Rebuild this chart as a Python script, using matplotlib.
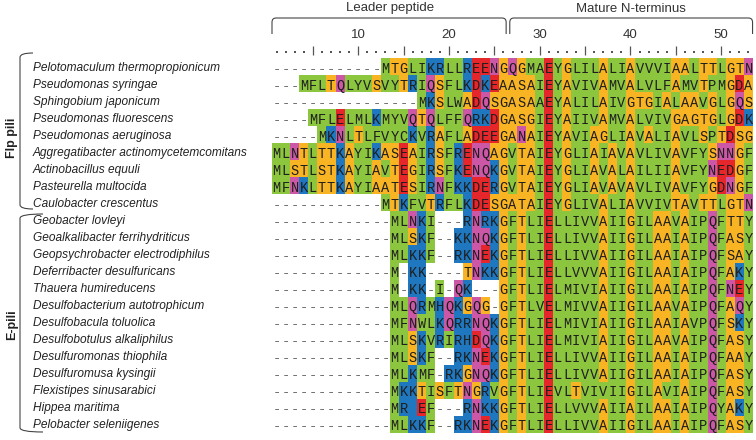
import numpy as np
import matplotlib.pyplot as plt
from matplotlib.colors import ListedColormap
from matplotlib.path import Path
from matplotlib.patches import PathPatch
from matplotlib.transforms import blended_transform_factory

species = [
    "Pelotomaculum thermopropionicum",
    "Pseudomonas syringae",
    "Sphingobium japonicum",
    "Pseudomonas fluorescens",
    "Pseudomonas aeruginosa",
    "Aggregatibacter actinomycetemcomitans",
    "Actinobacillus equuli",
    "Pasteurella multocida",
    "Caulobacter crescentus",
    "Geobacter lovleyi",
    "Geoalkalibacter ferrihydriticus",
    "Geopsychrobacter electrodiphilus",
    "Deferribacter desulfuricans",
    "Thauera humireducens",
    "Desulfobacterium autotrophicum",
    "Desulfobacula toluolica",
    "Desulfobotulus alkaliphilus",
    "Desulfuromonas thiophila",
    "Desulfuromusa kysingii",
    "Flexistipes sinusarabici",
    "Hippea maritima",
    "Pelobacter seleniigenes",
]

sequences = [
    "------------MTGLIKRLLREENGQGMAEYGLILALIAVVVIAALTTLGTN",
    "---MFLTQLYVSVYTRIQSFLKDKEAASAIEYAVIVAMVALVLFAMVTPMGDA",
    "----------------MKSLWADQSGASAAEYALILAIVGTGIALAAVGLGQS",
    "----MFLELMLKMYVQTQLFFQRKDGASGIEYAIIVAMVALVIVGAGTGLGDK",
    "-----MKNLTLFVYCKVRAFLADEEGANAIEYAVIAGLIAVALIAVLSPTDSG",
    "MLNTLTTKAYIKASEAIRSFRENQAGVTAIEYGLIAIAVAVLIVAVFYSNNGF",
    "MLSTLSTKAYIAVTEGIRSFKENQKGVTAIEYGLIAVALAILIIAVFYNEDGF",
    "MFNKLTTKAYIAATESIRNFKKDERGVTAIEYGLIAVAVAVLIVAVFYGDNGF",
    "------------MTKFVTRFLKDESGATAIEYGLIVALIAVVIVTAVTTLGTN",
    "-------------MLNKI---RNRKGFTLIELLIVVAIIGILAAVAIPQFTTY",
    "-------------MLSKF--KKNQKGFTLIELLIVVAIIGILAAIAIPQFASY",
    "-------------MLKKF--RKNEKGFTLIELLIVVAIIGILAAIAIPQFSAY",
    "-------------M-KK----TNKKGFTLIELLVVVAIIGILAAIAIPQFAKY",
    "-------------M-KK-I-QK---GFTLIELMIVIAIIGILAAIAIPQFNEY",
    "-------------MLQRMHQKGQG-GFTLVELMIVVAIIGILAAVAIPQFAQY",
    "-------------MFNWLKQRRNQKGFTLIELMIVIAIIGILAAIAVPQFSKY",
    "-------------MLSKVRIRHDQKGFTLIELMIVIAIIGILAAVAIPQFASY",
    "-------------MLSKF--RKNEKGFTLIELLIVVAIIGILAAIAIPQFAAY",
    "-------------MLKMF-RKGNQKGFTLIELLIVVAIIGILAAIAIPQFASY",
    "-------------MKKTISFTNGRVGFTLIEVLTVIVIIGILAVIAIPQFASY",
    "-------------MR EF---RNKKGFTLIELLVVVAIIAILAAIAIPQYAKY",
    "-------------MLKKF--RKNEKGFTLIELLIVVAIIGILAAIAIPQFASY",
]

groups = [("Flp pili", 0, 8), ("E-pili", 9, 21)]
regions = [("Leader peptide", 1, 26), ("Mature N-terminus", 27, 53)]
ruler_labels = [10, 20, 30, 40, 50]

# residue classes -> colour index (0 = gap / white)
residue_class = {}
for aa in "ILMFVWYCP":
    residue_class[aa] = 1   # hydrophobic
for aa in "AGST":
    residue_class[aa] = 2   # small
for aa in "KRH ":
    residue_class[aa] = 3   # basic (blank in Hippea is a basic cell)
for aa in "ED":
    residue_class[aa] = 4   # acidic
for aa in "QN":
    residue_class[aa] = 5   # amide
palette = ["white", "#8cc63f", "#f8b423", "#1f78bf", "#e5262b", "#cc57a6"]

ncol = len(sequences[0])
nrow = len(sequences)
codes = np.array([[residue_class.get(ch, 0) for ch in s] for s in sequences])
# Ala in the strongly hydrophobic column 30 is shown as hydrophobic
codes[[0, 2], 29] = 1

W, H = 756, 440
row_px = 17.0
top_px = 59.5
fig = plt.figure(figsize=(W / 100, H / 100), dpi=100)
ax = fig.add_axes([272 / W, 1 - (top_px + nrow * row_px) / H, 481 / W, (top_px + nrow * row_px) / H])
ax.axis("off")

ax.imshow(codes, cmap=ListedColormap(palette), vmin=-0.5, vmax=5.5,
          extent=(0.5, ncol + 0.5, nrow - 0.5, -0.5), aspect="auto", interpolation="nearest")
ax.set_xlim(0.5, ncol + 0.5)
ax.set_ylim(nrow - 0.5, -0.5 - top_px / row_px)

def px2row(y):
    return (y - 68) / row_px

for r, s in enumerate(sequences):
    for c, ch in enumerate(s):
        if ch == " ":
            continue
        ax.text(c + 1, r + 0.05, ch, ha="center", va="center", family="Liberation Mono",
                fontsize=9.8, color="#707070" if ch == "-" else "#1e1e1e")

# ruler
cols = np.arange(1, ncol + 1)
dots = cols[cols % 5 != 0]
ticks = cols[cols % 5 == 0]
ax.scatter(dots, np.full(len(dots), px2row(52)), s=2.2, marker="s", lw=0, color="#555555", clip_on=False)
ax.vlines(ticks, px2row(46), px2row(55), color="#555555", lw=0.9, clip_on=False)
for t in ruler_labels:
    ax.text(t, px2row(35), str(t), ha="center", va="center", fontsize=9.5,
            family="Liberation Sans", color="#333333")

# region brackets on top
def top_bracket(x0, x1):
    y0, y1 = px2row(34), px2row(18)
    rx, ry = 0.45, 0.25
    verts = [(x0, y0), (x0, y1 + ry), (x0, y1), (x0 + rx, y1),
             (x1 - rx, y1), (x1, y1), (x1, y1 + ry), (x1, y0)]
    codes_p = [Path.MOVETO, Path.LINETO, Path.CURVE3, Path.CURVE3,
               Path.LINETO, Path.CURVE3, Path.CURVE3, Path.LINETO]
    ax.add_patch(PathPatch(Path(verts, codes_p), fill=False, lw=0.8, ec="#444444", clip_on=False))

for name, c0, c1 in regions:
    top_bracket(c0 - 0.5 + (0.2 if c0 > 1 else 0), c1 + 0.5 - (0.2 if c1 < ncol else 0.05))
    ax.text((c0 + c1) / 2, px2row(8.5), name, ha="center", va="center", fontsize=9.5,
            family="Liberation Sans", color="#333333")

# species labels and group brackets on the left
tr = blended_transform_factory(fig.transFigure, ax.transData)
for r, name in enumerate(species):
    ax.text(33 / W, r, name, transform=tr, ha="left", va="center", fontsize=8.6,
            family="Liberation Sans", style="italic", color="#222222")

def side_bracket(ytop, ybot, xr_top, xr_bot):
    xl = 20 / W
    rx, ry = 6 / W, 0.25
    verts = [(xr_top / W, ytop), (xl, ytop), (xl, ytop + ry),
             (xl, ybot - ry), (xl, ybot), (xr_bot / W, ybot)]
    codes_p = [Path.MOVETO, Path.CURVE3, Path.CURVE3, Path.LINETO, Path.CURVE3, Path.CURVE3]
    ax.add_patch(PathPatch(Path(verts, codes_p), transform=tr, fill=False, lw=0.8,
                           ec="#444444", clip_on=False))

side_bracket(px2row(53), px2row(209), 33, 33)
side_bracket(px2row(214), px2row(432), 43, 43)
for name, r0, r1 in groups:
    ax.text(12 / W, (r0 + r1) / 2 + 0.1, name, transform=tr, rotation=90, ha="center",
            va="center", fontsize=9, fontweight="bold", family="Liberation Sans", color="#222222")

fig.savefig("out.png", dpi=100)
